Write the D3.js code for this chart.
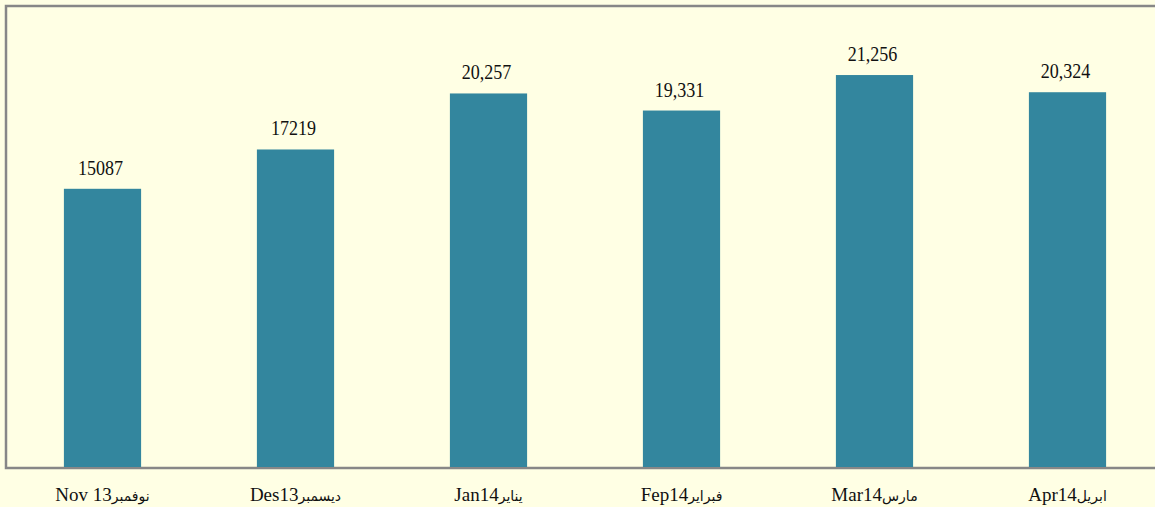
<!DOCTYPE html>
<html>
<head>
<meta charset="utf-8">
<script src="https://cdn.jsdelivr.net/npm/d3@7/dist/d3.min.js"></script>
<style>
  html, body { margin: 0; padding: 0; background: #ffffe4; }
  svg { display: block; }
</style>
</head>
<body>
<svg id="chart" width="1155" height="507"></svg>
<script>
const categories = ["Nov 13نوفمبر", "Des13ديسمبر", "Jan14يناير", "Fep14فبراير", "Mar14مارس", "Apr14ابريل"];
const values = [15087, 17219, 20257, 19331, 21256, 20324];
const valueLabels = ["15087", "17219", "20,257", "19,331", "21,256", "20,324"];
const yMax = 25000;

const svg = d3.select("#chart");
const W = 1155, H = 507;
const plot = { left: 6, top: 6, right: 1164, bottom: 467 };

svg.append("rect").attr("x", 0).attr("y", 0).attr("width", W).attr("height", H).attr("fill", "#ffffe4");

const x = d3.scaleBand()
  .domain(categories)
  .range([plot.left, plot.right])
  .paddingInner(0.6)
  .paddingOuter(0.3);

const y = d3.scaleLinear().domain([0, yMax]).range([plot.bottom, plot.top]);

// frame
svg.append("rect")
  .attr("x", plot.left).attr("y", plot.top)
  .attr("width", 1200).attr("height", plot.bottom - plot.top + 1)
  .attr("fill", "#ffffe4")
  .attr("stroke", "#878787")
  .attr("stroke-width", 2.5);

// bars
svg.append("g").selectAll("rect")
  .data(values)
  .join("rect")
  .attr("x", (d, i) => x(categories[i]))
  .attr("y", d => y(d))
  .attr("width", x.bandwidth())
  .attr("height", d => y(0) - y(d))
  .attr("fill", "#33869e");

// value labels
svg.append("g").selectAll("text")
  .data(values)
  .join("text")
  .attr("transform", (d, i) => `translate(${x(categories[i]) + x.bandwidth() / 2 - 2},${y(d) - 14}) scale(0.86,1)`)
  .attr("text-anchor", "middle")
  .attr("font-family", "'Liberation Serif', 'Times New Roman', serif")
  .attr("font-size", 21)
  .attr("fill", "#111")
  .text((d, i) => valueLabels[i]);

// category axis labels
const xAxis = d3.axisBottom(x).tickSize(0).tickPadding(0);
const ax = svg.append("g").attr("transform", `translate(0,${plot.bottom})`).call(xAxis);
ax.select(".domain").remove();
ax.selectAll("text")
  .attr("y", 34)
  .attr("dy", 0)
  .attr("font-family", "'Liberation Serif', serif")
  .attr("fill", "#111")
  .attr("direction", "ltr")
  .each(function (d) {
    const m = d.match(/^([\x00-\x7F]+)(.*)$/);
    const t = d3.select(this).text(null);
    t.append("tspan").attr("font-size", 19).text(m ? m[1] : d);
    if (m) t.append("tspan").attr("font-size", 14).attr("font-family", "'DejaVu Sans', sans-serif").text(m[2]);
  });
</script>
</body>
</html>
